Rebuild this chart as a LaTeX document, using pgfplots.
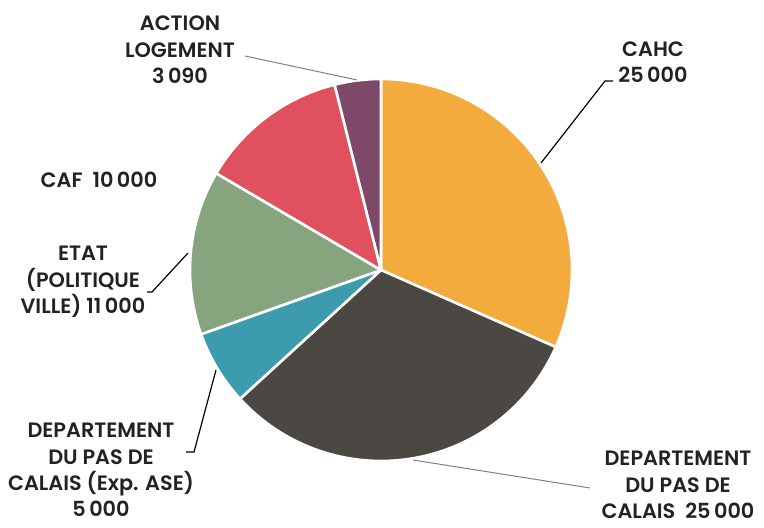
\documentclass[border=0pt]{standalone}
\usepackage{fontspec}
\setmainfont{Poppins}[UprightFont=* SemiBold]
\usepackage{pgfplots}
\pgfplotsset{compat=1.18}

\definecolor{cahc}{HTML}{F2AB3C}
\definecolor{dept}{HTML}{4B4843}
\definecolor{ase}{HTML}{3C9BAD}
\definecolor{etat}{HTML}{86A47E}
\definecolor{caf}{HTML}{E0505E}
\definecolor{action}{HTML}{7E4868}
\definecolor{txt}{HTML}{222222}

% pie centre and radius, in pixels of the 764x528 frame
\def\cx{381}
\def\cy{258}
\def\rr{191}

\begin{document}
\begin{tikzpicture}
\begin{axis}[
    x=0.5pt, y=0.5pt,
    xmin=0, xmax=764, ymin=0, ymax=528,
    hide axis, clip=false,
]
\path (axis cs:0,0) rectangle (axis cs:764,528);

% total of the funding amounts
\gdef\total{0}
\foreach \v in {25000,25000,5000,11000,10000,3090}{\xdef\total{\fpeval{\total+\v}}}

% slices, clockwise from 12 o'clock
\gdef\acc{90}
\foreach \v/\c in {25000/cahc,25000/dept,5000/ase,11000/etat,10000/caf,3090/action}{
  \edef\a{\acc}
  \edef\b{\fpeval{\acc-\v/\total*360}}
  \edef\tmp{\noexpand\fill[\c, draw=white, line width=1.3pt, line join=round]
    (axis cs:\cx,\cy) -- (axis cs:\fpeval{\cx+\rr*cosd(\a)},\fpeval{\cy+\rr*sind(\a)})
    arc[start angle=\a, end angle=\b, radius=95.5pt] -- cycle;}
  \tmp
  \xdef\acc{\b}
}

% leader lines
\draw[gray, line width=0.5pt] (axis cs:245,472) -- (axis cs:357,448);
\draw[black, line width=0.6pt] (axis cs:613,447) -- (axis cs:605,447) -- (axis cs:541,365);
\draw[black, line width=0.6pt] (axis cs:147,236) -- (axis cs:152,236) -- (axis cs:188,275);
\draw[black, line width=0.6pt] (axis cs:186,76) -- (axis cs:194,76) -- (axis cs:216,158);
\draw[gray, line width=0.5pt] (axis cs:413,68) -- (axis cs:590,40);

% labels
\tikzset{lab/.style={text=txt, align=center, inner sep=0pt,
  font=\fontsize{10.4}{13.2}\selectfont}}
\node[lab] at (axis cs:180,478) {ACTION\\LOGEMENT\\3\,090};
\node[lab] at (axis cs:653,466) {CAHC\\25\,000};
\node[lab] at (axis cs:99,348) {CAF\ \ 10\,000};
\node[lab] at (axis cs:83,246) {ETAT\\(POLITIQUE\\VILLE) 11\,000};
\node[lab] at (axis cs:101,58) {DEPARTEMENT\\DU PAS DE\\CALAIS (Exp. ASE)\\5\,000};
\node[lab] at (axis cs:678,43) {DEPARTEMENT\\DU PAS DE\\CALAIS\ \ 25\,000};
\end{axis}
\end{tikzpicture}
\end{document}
